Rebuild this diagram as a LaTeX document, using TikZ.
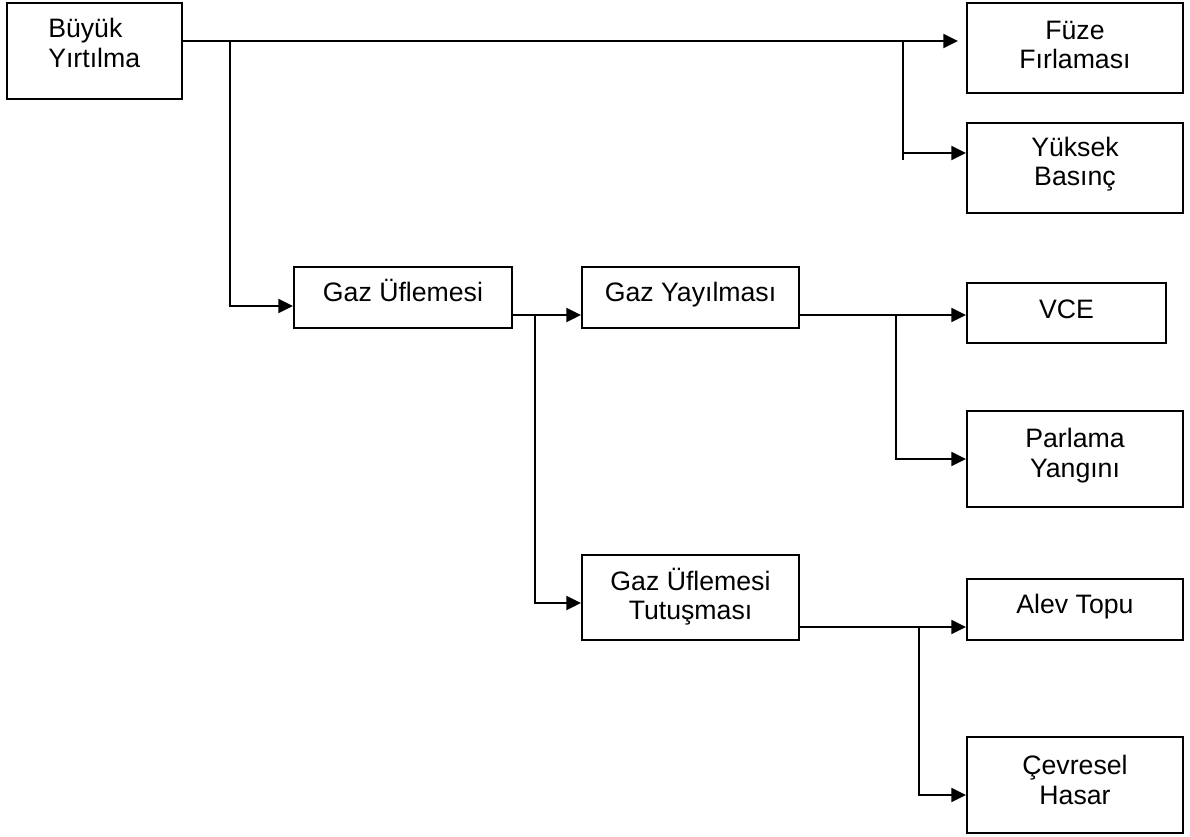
\documentclass[tikz,border=0pt]{standalone}
\usepackage{fontspec}
\setmainfont{Liberation Sans}
\usetikzlibrary{arrows.meta,fit}
\newcommand{\mytop}{\vphantom{Ü}}
\newcommand{\mybot}{\vphantom{g}}
\begin{document}
\begin{tikzpicture}[x=0.75pt,y=-0.75pt,
  box/.style={draw, line width=1.5pt, inner sep=0pt},
  txt/.style={font=\fontsize{20}{22}\selectfont, align=center, inner sep=0pt},
  conn/.style={line width=1.5pt},
  arr/.style={conn, -{Triangle[length=11pt,width=10.5pt]}}]
\useasboundingbox (0,0) rectangle (1190,837);

% boxes
\node[box, fit={(7,3) (182,99)}] (bu) {};
\node[box, fit={(967,3) (1183,93)}] (fu) {};
\node[box, fit={(967,123) (1183,213)}] (yu) {};
\node[box, fit={(294,267) (512,328)}] (gu) {};
\node[box, fit={(582,267) (799,328)}] (gy) {};
\node[box, fit={(967,283) (1166,343)}] (vce) {};
\node[box, fit={(967,411) (1183,507)}] (pa) {};
\node[box, fit={(582,555) (799,640)}] (tu) {};
\node[box, fit={(967,579) (1183,640)}] (al) {};
\node[box, fit={(967,737) (1183,833)}] (ce) {};

% texts
\node[txt, align=left, anchor=west] (bu-t) at (48,44) {\mytop Büyük\\Yırtılma\mybot};
\node[txt] (fu-t) at (1075,45.5) {\mytop Füze\\Fırlaması\mybot};
\node[txt] (yu-t) at (1075,163) {\mytop Yüksek\\Basınç\mybot};
\node[txt] (gu-t) at (403,293) {\mytop\mybot Gaz Üflemesi};
\node[txt] (gy-t) at (690.5,293) {\mytop\mybot Gaz Yayılması};
\node[txt] (vce-t) at (1066.5,310) {\mytop\mybot VCE};
\node[txt] (pa-t) at (1075,454) {\mytop Parlama\\Yangını\mybot};
\node[txt] (tu-t) at (690.5,597) {\mytop Gaz Üflemesi\\Tutuşması\mybot};
\node[txt] (al-t) at (1075,605.5) {\mytop\mybot Alev Topu};
\node[txt] (ce-t) at (1075,781) {\mytop Çevresel\\Hasar\mybot};

% helper levels and junctions
\coordinate (y153) at (0,153);
\coordinate (y160) at (0,160);
\coordinate (y306) at (0,306);
\coordinate (y315) at (0,315);
\coordinate (y459) at (0,459);
\coordinate (y603) at (0,603);
\coordinate (y627) at (0,627);
\coordinate (y795) at (0,795);
\coordinate (fuEnd) at (958,41);
\coordinate (b1) at (230,41);
\coordinate (b2) at (903,41);
\coordinate (b3) at (535,315);
\coordinate (b4) at (896,315);
\coordinate (b5) at (919,627);

% connectors
\draw[arr] (bu.east |- fuEnd) -- (fuEnd);
\draw[arr] (b1) |- (gu.west |- y306);
\draw[conn] (b2) -- (b2 |- y160);
\draw[arr] (b2 |- y153) -- (yu.west |- y153);
\draw[arr] (gu.east |- y315) -- (gy.west |- y315);
\draw[arr] (b3) |- (tu.west |- y603);
\draw[arr] (gy.east |- y315) -- (vce.west |- y315);
\draw[arr] (b4) |- (pa.west |- y459);
\draw[arr] (tu.east |- y627) -- (al.west |- y627);
\draw[arr] (b5) |- (ce.west |- y795);
\end{tikzpicture}
\end{document}
